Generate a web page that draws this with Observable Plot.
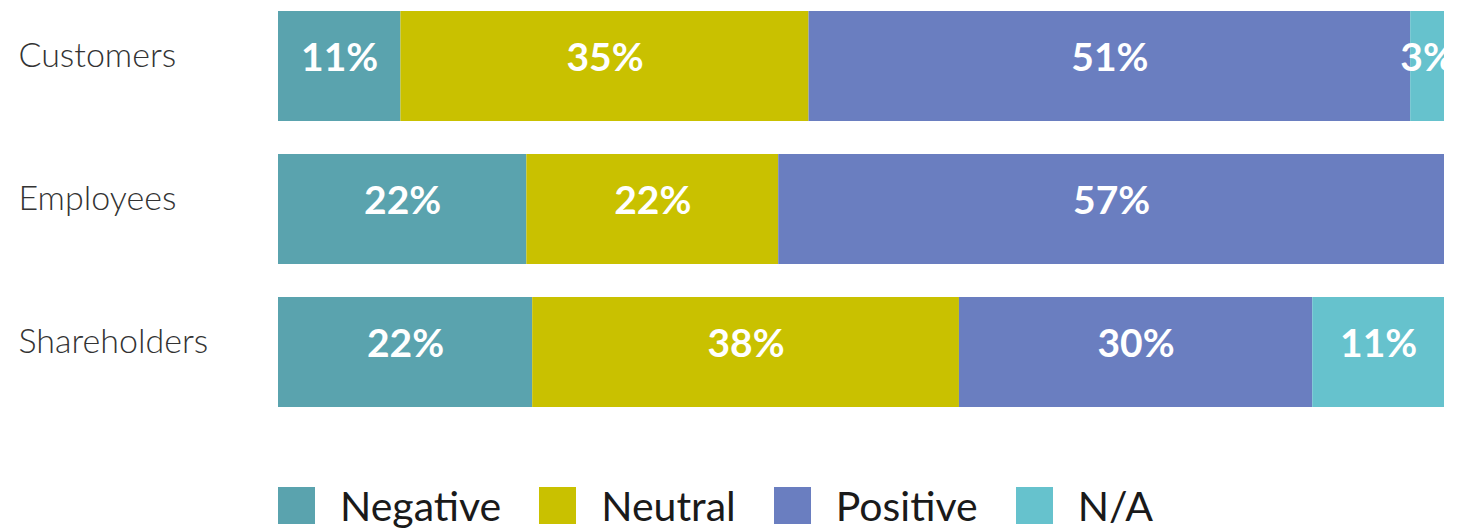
<!DOCTYPE html>
<html>
<head>
<meta charset="utf-8">
<script src="https://cdn.jsdelivr.net/npm/d3@7"></script>
<script src="https://cdn.jsdelivr.net/npm/@observablehq/plot@0.6"></script>
<style>
  html, body { margin: 0; padding: 0; background: #fff; }
  body { width: 1463px; height: 529px; overflow: hidden; font-family: Lato, "Noto Sans", sans-serif; }
  #legend { display: flex; align-items: center; height: 89px; padding-left: 278px; box-sizing: border-box; padding-top: 41px; }
  .item { display: flex; align-items: center; margin-right: 38px; }
  .sw { width: 37px; height: 37px; margin-right: 25px; }
  .lb { font-size: 41px; color: #1a1a1a; font-family: Lato, sans-serif; line-height: 1; }
</style>
</head>
<body>
<div id="chart"></div>
<div id="legend"></div>
<script>
const categories = ["Customers", "Employees", "Shareholders"];
const responses = ["Negative", "Neutral", "Positive", "N/A"];
const colors = ["#5aa3ae", "#c9c100", "#6a7ec0", "#66c2cd"];
// shares (percent of bar)
const customersShare = [10.5, 35.0, 51.6, 2.9];
const employeesShare = [21.3, 21.6, 57.1, 0];
const shareholdersShare = [21.8, 36.6, 30.3, 11.3];
// printed labels
const customersLabel = ["11%", "35%", "51%", "3%"];
const employeesLabel = ["22%", "22%", "57%", ""];
const shareholdersLabel = ["22%", "38%", "30%", "11%"];

const shares = [customersShare, employeesShare, shareholdersShare];
const labels = [customersLabel, employeesLabel, shareholdersLabel];
const data = [];
categories.forEach((c, i) => {
  responses.forEach((r, j) => {
    if (shares[i][j] > 0) data.push({category: c, response: r, value: shares[i][j], label: labels[i][j]});
  });
});

const chart = Plot.plot({
  width: 1463,
  height: 440,
  marginLeft: 278,
  marginRight: 19,
  marginTop: 10,
  marginBottom: 33,
  style: {fontFamily: "Lato, 'Noto Sans', sans-serif", background: "#fff"},
  x: {axis: null, domain: [0, 1]},
  y: {domain: categories, paddingInner: 0.233, paddingOuter: 0, label: null},
  color: {domain: responses, range: colors},
  marks: [
    Plot.barX(data, Plot.stackX({x: "value", y: "category", fill: "response", order: responses, offset: "normalize"})),
    Plot.text(data, Plot.stackX({x: "value", y: "category", z: "response", order: responses, offset: "normalize", text: "label",
      fill: "white", fontSize: 39, fontWeight: "bold", dy: -8})),
    Plot.axisY({tickSize: 0, tickPadding: 0, textAnchor: "start", dx: -260, dy: -10, fontSize: 34, fontWeight: 300, fill: "#333", label: null})
  ]
});
document.getElementById("chart").appendChild(chart);

const legend = document.getElementById("legend");
responses.forEach((r, j) => {
  const it = document.createElement("div");
  it.className = "item";
  const sw = document.createElement("div");
  sw.className = "sw";
  sw.style.background = chart.scale("color").apply(r);
  const lb = document.createElement("span");
  lb.className = "lb";
  lb.textContent = r;
  it.appendChild(sw); it.appendChild(lb);
  legend.appendChild(it);
});
</script>
</body>
</html>
